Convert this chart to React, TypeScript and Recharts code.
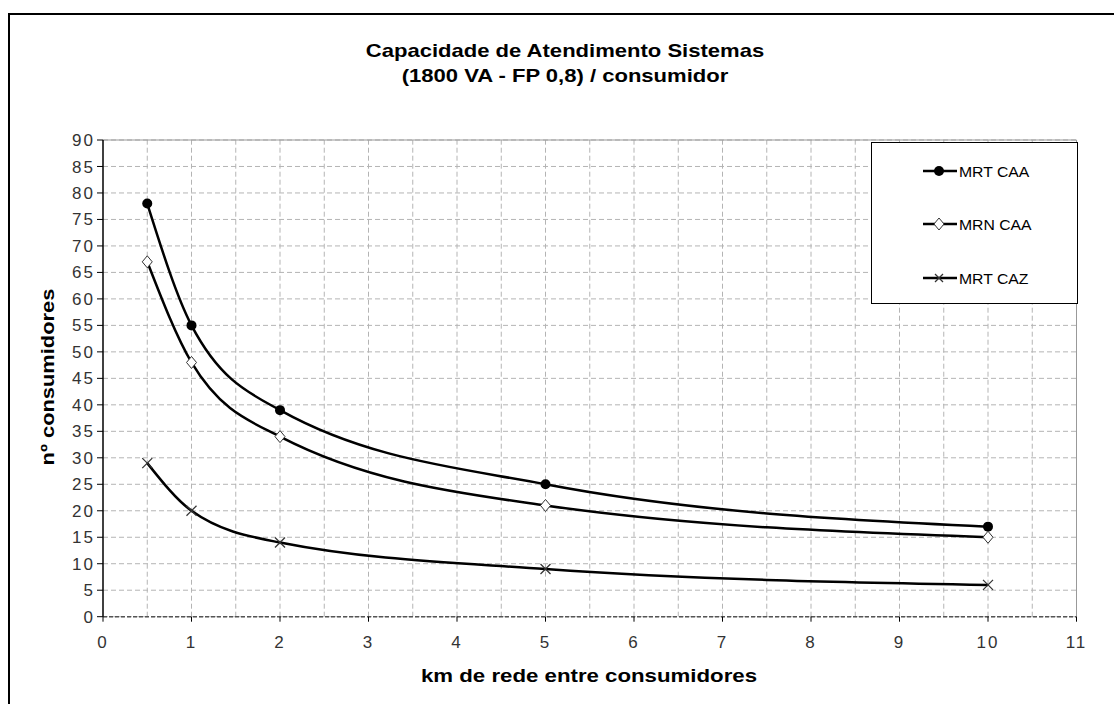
import React from "react";
import {
  LineChart,
  Line,
  XAxis,
  YAxis,
  CartesianGrid,
  ReferenceLine,
} from "recharts";

// km between consumers
const distances = [0.5, 1, 2, 5, 10];
// number of consumers per system
const mrtCaa = [78, 55, 39, 25, 17];
const mrnCaa = [67, 48, 34, 21, 15];
const mrtCaz = [29, 20, 14, 9, 6];

const xTicks = [0, 1, 2, 3, 4, 5, 6, 7, 8, 9, 10, 11];
const yTicks = [0, 5, 10, 15, 20, 25, 30, 35, 40, 45, 50, 55, 60, 65, 70, 75, 80, 85, 90];
const xGridValues = [0.5, 1, 1.5, 2, 2.5, 3, 3.5, 4, 4.5, 5, 5.5, 6, 6.5, 7, 7.5, 8, 8.5, 9, 9.5, 10, 10.5];

const seriesNames = ["MRT CAA", "MRN CAA", "MRT CAZ"];

const data = distances.map((km, i) => ({
  km,
  mrtCaa: mrtCaa[i],
  mrnCaa: mrnCaa[i],
  mrtCaz: mrtCaz[i],
}));

const FONT = "Arial, 'Liberation Sans', Helvetica, sans-serif";

const CircleDot = (props: any) => {
  const { cx, cy, index } = props;
  if (cx == null || cy == null) return <g key={index} />;
  return <circle key={"c" + index} cx={cx} cy={cy} r={5} fill="#000" />;
};

const DiamondDot = (props: any) => {
  const { cx, cy, index } = props;
  if (cx == null || cy == null) return <g key={index} />;
  const pts = `${cx},${cy - 6} ${cx + 5},${cy} ${cx},${cy + 6} ${cx - 5},${cy}`;
  return <polygon key={"d" + index} points={pts} fill="#fff" stroke="#333" strokeWidth={1} />;
};

const CrossDot = (props: any) => {
  const { cx, cy, index } = props;
  if (cx == null || cy == null) return <g key={index} />;
  return (
    <g key={"x" + index} stroke="#333" strokeWidth={1.2}>
      <line x1={cx - 5} y1={cy - 5} x2={cx + 5} y2={cy + 5} />
      <line x1={cx - 5} y1={cy + 5} x2={cx + 5} y2={cy - 5} />
    </g>
  );
};

const legendIcon = (i: number) => {
  const line = <line x1={0} y1={7} x2={34} y2={7} stroke="#000" strokeWidth={2.5} />;
  if (i === 0)
    return (
      <>
        {line}
        <circle cx={16} cy={7} r={5} fill="#000" />
      </>
    );
  if (i === 1)
    return (
      <>
        {line}
        <polygon points="16,1 21,7 16,13 11,7" fill="#fff" stroke="#333" strokeWidth={1} />
      </>
    );
  return (
    <>
      {line}
      <g stroke="#333" strokeWidth={1.2}>
        <line x1={12} y1={3} x2={20} y2={11} />
        <line x1={12} y1={11} x2={20} y2={3} />
      </g>
    </>
  );
};

const legendRows = [28, 81, 135];

export default function App() {
  return (
    <div style={{ position: "absolute", left: 0, top: 0, width: 1114, height: 704, background: "#fff", fontFamily: FONT }}>
      <div
        style={{
          position: "absolute",
          left: 8,
          top: 13,
          width: 1106,
          height: 691,
          borderLeft: "2px solid #000",
          borderTop: "2px solid #000",
          boxSizing: "border-box",
        }}
      />
      <div style={{ position: "absolute", left: 0, top: 0 }}>
        <LineChart width={1114} height={704} data={data} margin={{ top: 140, right: 37.5, bottom: 57.3, left: 43 }}>
          <CartesianGrid vertical={false} stroke="#b4b4b4" strokeDasharray="5 3" />
          {xGridValues.map((v) => (
            <ReferenceLine key={v} x={v} stroke="#b4b4b4" strokeDasharray="5 3" />
          ))}
          <ReferenceLine y={90} stroke="#999" />
          <ReferenceLine x={11} stroke="#999" />
          <XAxis
            type="number"
            dataKey="km"
            domain={[0, 11]}
            ticks={xTicks}
            interval={0}
            height={30}
            tickSize={5}
            tickMargin={14}
            axisLine={{ stroke: "#555", strokeDasharray: "4 2", strokeWidth: 1.5 }}
            tickLine={{ stroke: "#000" }}
            tick={{ fill: "#333", fontSize: 17, fontFamily: FONT, letterSpacing: 2 }}
          />
          <YAxis
            type="number"
            domain={[0, 90]}
            ticks={yTicks}
            interval={0}
            width={60}
            tickSize={6}
            tickMargin={2}
            axisLine={{ stroke: "#000", strokeWidth: 1.5 }}
            tickLine={{ stroke: "#000" }}
            tick={{ fill: "#333", fontSize: 17, fontFamily: FONT, letterSpacing: 2 }}
          />
          <Line type="monotone" dataKey="mrtCaa" name={seriesNames[0]} stroke="#000" strokeWidth={2.5} dot={CircleDot} activeDot={false} isAnimationActive={false} />
          <Line type="monotone" dataKey="mrnCaa" name={seriesNames[1]} stroke="#000" strokeWidth={2.5} dot={DiamondDot} activeDot={false} isAnimationActive={false} />
          <Line type="monotone" dataKey="mrtCaz" name={seriesNames[2]} stroke="#000" strokeWidth={2.5} dot={CrossDot} activeDot={false} isAnimationActive={false} />
        </LineChart>
      </div>

      {/* title */}
      <div
        style={{
          position: "absolute",
          left: 265,
          top: 38,
          width: 600,
          textAlign: "center",
          fontWeight: "bold",
          fontSize: 19,
          lineHeight: "25px",
          color: "#000",
          transform: "scaleX(1.16)",
        }}
      >
        <div>Capacidade de Atendimento Sistemas</div>
        <div>(1800 VA - FP 0,8) / consumidor</div>
      </div>

      {/* x axis title */}
      <div
        style={{
          position: "absolute",
          left: 389,
          top: 664,
          width: 400,
          textAlign: "center",
          fontWeight: "bold",
          fontSize: 19,
          lineHeight: "24px",
          transform: "scaleX(1.17)",
        }}
      >
        km de rede entre consumidores
      </div>

      {/* y axis title */}
      <div
        style={{
          position: "absolute",
          left: 48 - 120,
          top: 377 - 12,
          width: 240,
          textAlign: "center",
          fontWeight: "bold",
          fontSize: 19,
          lineHeight: "24px",
          transform: "rotate(-90deg) scaleX(1.15)",
        }}
      >
        nº consumidores
      </div>

      {/* legend */}
      <div
        style={{
          position: "absolute",
          left: 871,
          top: 142,
          width: 207,
          height: 162,
          border: "1px solid #000",
          background: "#fff",
          boxSizing: "border-box",
        }}
      >
        {seriesNames.map((name, i) => (
          <div key={name} style={{ position: "absolute", left: 51, top: legendRows[i] - 8, height: 16, display: "flex", alignItems: "center" }}>
            <svg width={35} height={14} style={{ display: "block" }}>
              {legendIcon(i)}
            </svg>
            <span style={{ fontSize: 15, color: "#000", marginLeft: 1, transform: "scaleX(1.05)", transformOrigin: "left" }}>{name}</span>
          </div>
        ))}
      </div>
    </div>
  );
}
